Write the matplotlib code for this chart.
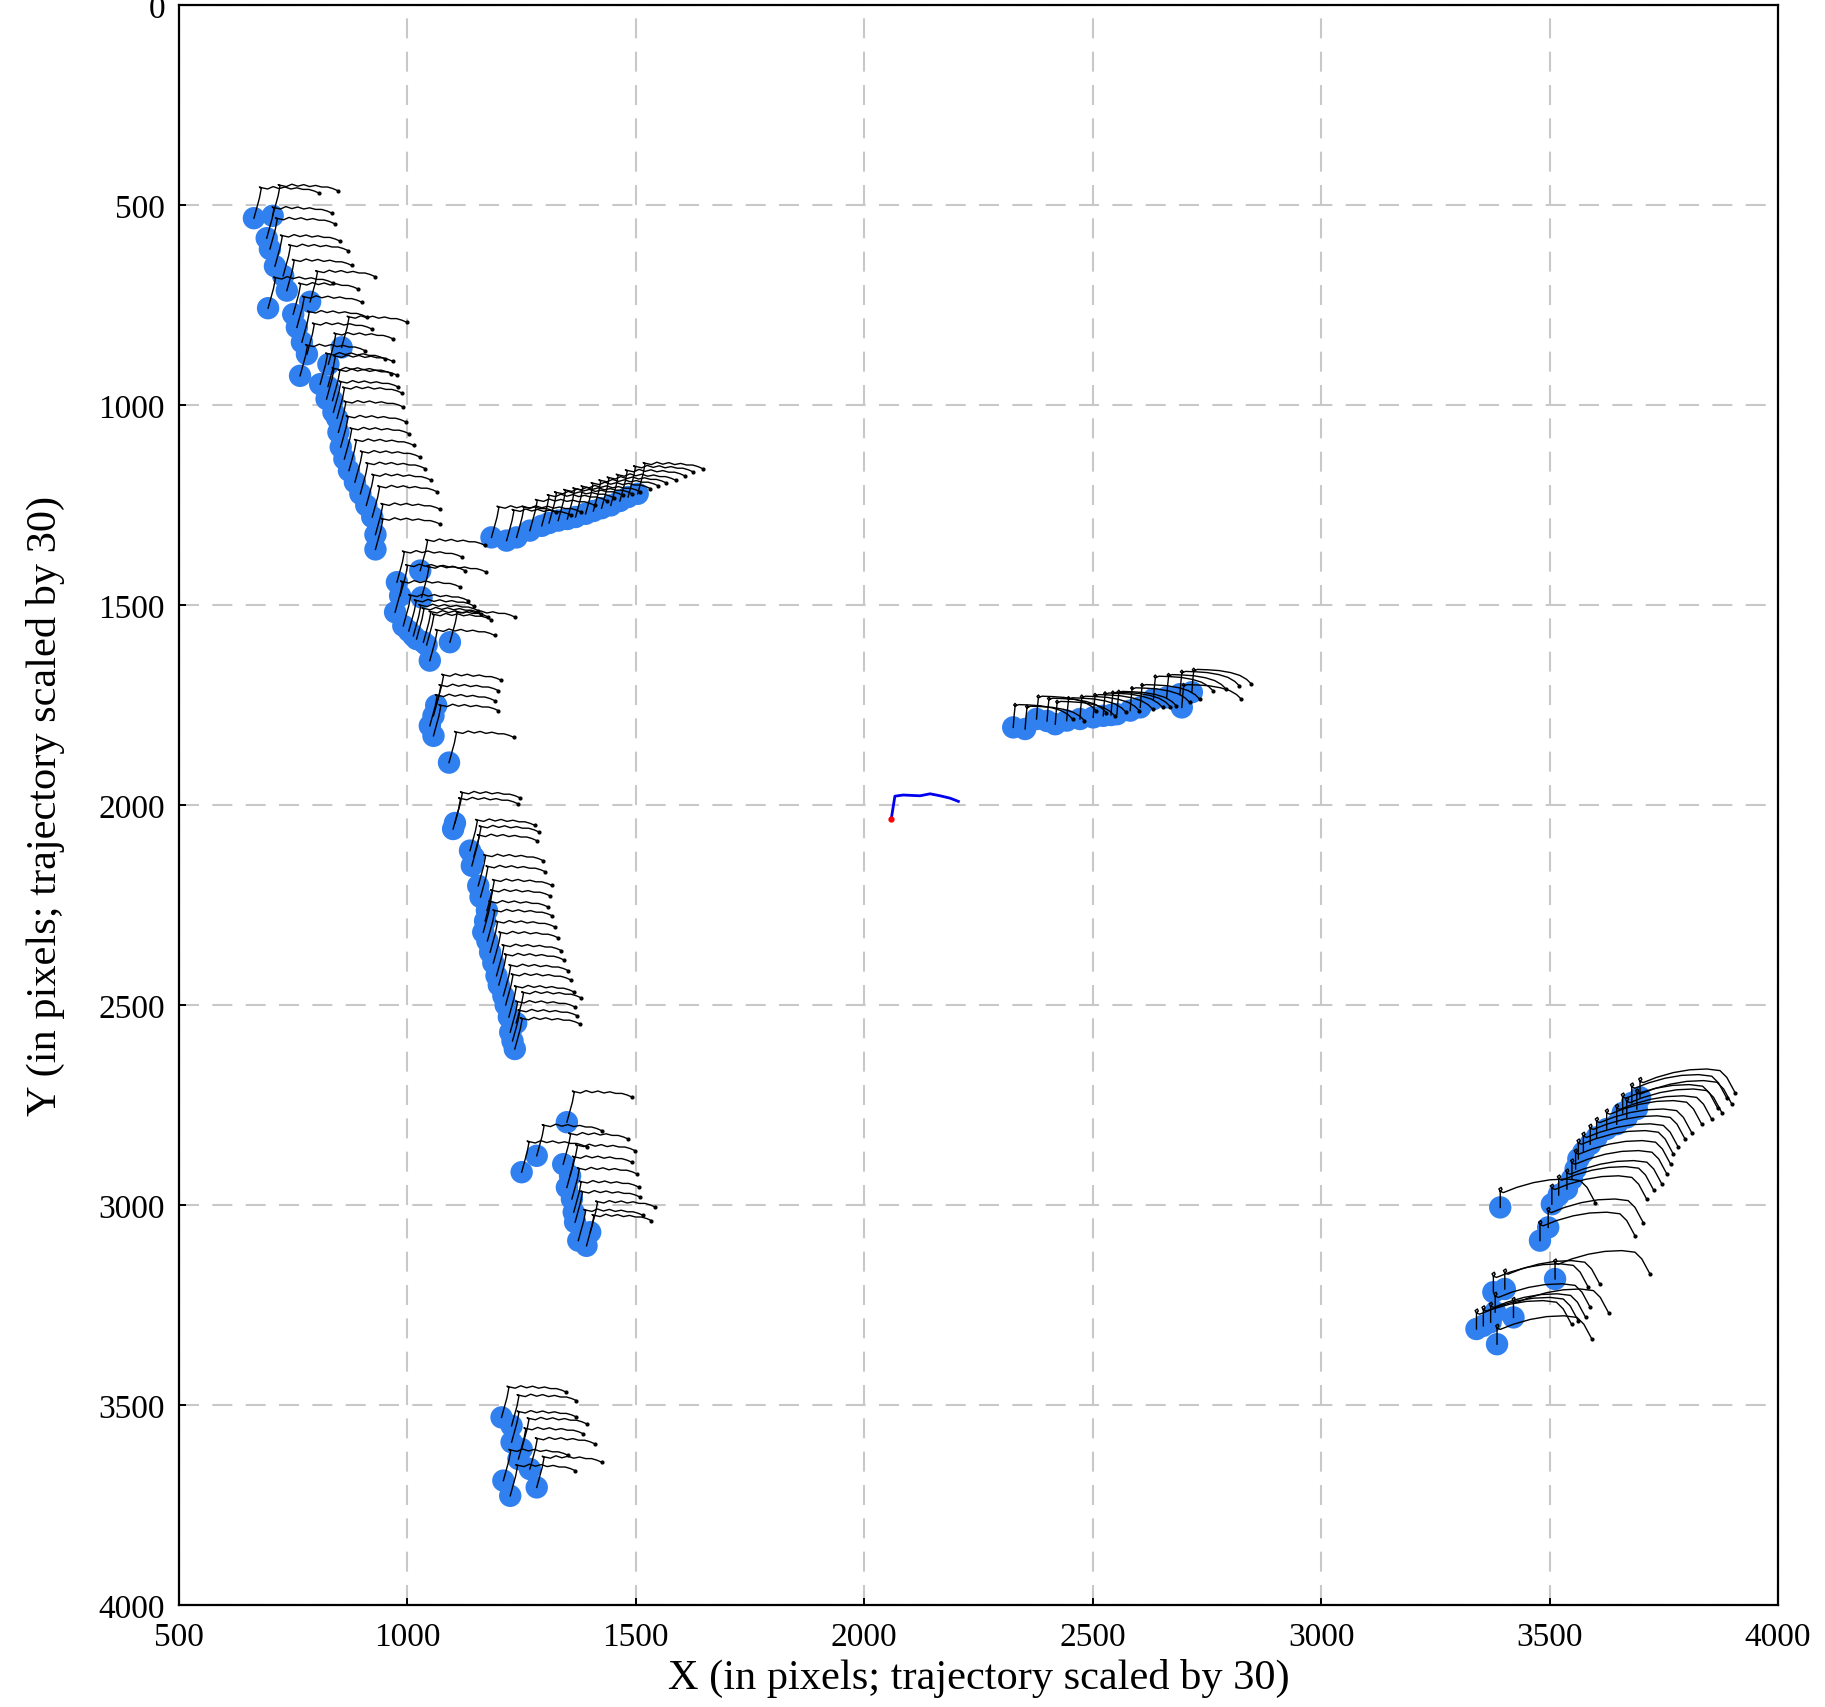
import matplotlib
matplotlib.use("Agg")
import matplotlib.pyplot as plt

plt.rcParams['font.family'] = ['Liberation Serif', 'DejaVu Serif']

# ---------------- data ----------------
# cluster dot positions (start points of each trajectory)
A_x = [664, 705, 692, 699, 710, 728, 736, 695, 787, 750, 758, 769, 780, 765, 856, 827, 809, 823,
       838, 826, 836, 846, 849, 854, 862, 872, 885, 897, 910, 923, 930, 930]
A_y = [533, 527, 583, 610, 653, 677, 714, 758, 742, 773, 806, 843, 873, 927, 856, 898, 948, 985,
       1018, 954, 989, 1033, 1068, 1105, 1135, 1164, 1193, 1222, 1251, 1280, 1324, 1361]
B_x = [1184, 1217, 1239, 1268, 1294, 1310, 1330, 1350, 1368, 1390, 1407, 1425, 1445, 1465, 1483, 1504]
B_y = [1331, 1339, 1331, 1314, 1302, 1295, 1289, 1285, 1280, 1272, 1265, 1258, 1251, 1240, 1230, 1222]
C_x = [1028, 977, 984, 1031, 973, 991, 1003, 1013, 1020, 1035, 1042, 1049, 1093]
C_y = [1414, 1443, 1477, 1481, 1518, 1552, 1565, 1577, 1585, 1593, 1600, 1639, 1593]
D_x = [1063, 1057, 1049, 1057, 1091]
D_y = [1751, 1777, 1802, 1827, 1894]
E_x = [1100, 1104, 1137, 1145, 1141, 1155, 1160, 1174, 1170, 1166, 1175, 1181, 1188, 1195, 1200,
       1210, 1215, 1222, 1225, 1238, 1230, 1235]
E_y = [2060, 2045, 2114, 2130, 2152, 2202, 2230, 2264, 2290, 2318, 2340, 2368, 2395, 2427, 2450,
       2477, 2500, 2530, 2568, 2545, 2590, 2610]
F_x = [1349, 1283, 1250, 1341, 1356, 1349, 1360, 1364, 1367, 1374, 1392, 1400]
F_y = [2793, 2877, 2918, 2898, 2927, 2956, 2985, 3018, 3043, 3089, 3102, 3068]
G_x = [1206, 1228, 1228, 1250, 1243, 1268, 1210, 1283, 1225]
G_y = [3531, 3552, 3593, 3610, 3635, 3660, 3689, 3706, 3727]
H_x = [2326, 2352, 2377, 2400, 2418, 2443, 2472, 2501, 2523, 2540, 2553, 2582, 2604, 2633, 2662,
       2691, 2695, 2717]
H_y = [1806, 1810, 1785, 1790, 1798, 1789, 1785, 1781, 1777, 1775, 1773, 1764, 1756, 1735, 1731,
       1723, 1756, 1718]
I_x = [3392, 3479, 3497, 3505, 3520, 3538, 3549, 3557, 3563, 3574, 3589, 3603, 3625, 3647, 3669,
       3691, 3698, 3680, 3660]
I_y = [3006, 3089, 3056, 2998, 2975, 2960, 2935, 2910, 2885, 2868, 2848, 2831, 2810, 2798, 2781,
       2760, 2731, 2745, 2770]
J_x = [3512, 3377, 3402, 3340, 3355, 3381, 3421, 3385, 3371]
J_y = [3185, 3218, 3210, 3310, 3302, 3268, 3281, 3348, 3293]

# trajectory shapes (offsets from the start dot, scaled units)
walk_dx = [0, 6, 12, 16, 12, 18, 30, 42, 55, 68, 81, 94, 107, 120, 132, 142]
walk_dy = [0, -25, -50, -74, -78, -76, -73, -79, -74, -78, -73, -76, -72, -72, -68, -63]
arc_dx = [0, 2, 4, 7, 4, 1, 4, 12, 35, 60, 85, 105, 120, 130]
arc_dy = [0, -30, -52, -56, -60, -56, -53, -57, -56, -54, -49, -42, -32, -21]
long_dx = [0, 0, 0, 4, 2, -3, 0, 7, 36, 73, 109, 146, 175, 190, 208]
long_dy = [0, -20, -40, -45, -50, -46, -40, -37, -50, -62, -69, -71, -67, -50, -12]

# single highlighted trajectory
focus_x = [2059, 2067, 2085, 2122, 2144, 2166, 2188, 2206]
focus_y = [2035, 1978, 1975, 1977, 1972, 1977, 1983, 1991]

x_ticks = [500, 1000, 1500, 2000, 2500, 3000, 3500, 4000]
y_ticks = [0, 500, 1000, 1500, 2000, 2500, 3000, 3500, 4000]

groups = [
    (A_x, A_y, walk_dx, walk_dy),
    (B_x, B_y, walk_dx, walk_dy),
    (C_x, C_y, walk_dx, walk_dy),
    (D_x, D_y, walk_dx, walk_dy),
    (E_x, E_y, walk_dx, walk_dy),
    (F_x, F_y, walk_dx, walk_dy),
    (G_x, G_y, walk_dx, walk_dy),
    (H_x, H_y, arc_dx, arc_dy),
    (I_x, I_y, long_dx, long_dy),
    (J_x, J_y, long_dx, long_dy),
]

# ---------------- figure ----------------
fig = plt.figure(figsize=(18.25, 17.08), dpi=100)
ax = fig.add_axes([179 / 1825, 1 - 1606 / 1708, (1778 - 179) / 1825, 1600 / 1708])

dot_color = '#3080f0'
for gx, gy, tdx, tdy in groups:
    ax.scatter(gx, gy, s=260, color=dot_color, edgecolors='none', zorder=2)
for gx, gy, tdx, tdy in groups:
    for x0, y0 in zip(gx, gy):
        px = [x0 + d for d in tdx]
        py = [y0 + d for d in tdy]
        ax.plot(px, py, color='black', lw=1.0, zorder=3)
        ax.plot(px[-1], py[-1], 'o', color='black', ms=2, zorder=3)

ax.plot(focus_x, focus_y, color='#0000ee', lw=2.0, zorder=4)
ax.plot(focus_x[0], focus_y[0], 'o', color='red', ms=3.5, zorder=5)

ax.set_xlim(500, 4000)
ax.set_ylim(4000, 0)
ax.set_xticks(x_ticks)
ax.set_yticks(y_ticks)
ax.tick_params(axis='both', direction='in', length=5, width=1.4, labelsize=24)
ax.tick_params(axis='x', pad=12)
ax.tick_params(axis='y', pad=10)
ax.grid(True, color='#c8c8c8', lw=1.5, linestyle=(0, (9.6, 6.4)))
ax.set_axisbelow(True)
for sp in ax.spines.values():
    sp.set_linewidth(1.6)
    sp.set_color('black')

ax.set_xlabel('X (in pixels; trajectory scaled by 30)', fontsize=30.5, labelpad=4)
ax.set_ylabel('Y (in pixels; trajectory scaled by 30)', fontsize=30.5, labelpad=24)

fig.savefig('out.png', dpi=100)
